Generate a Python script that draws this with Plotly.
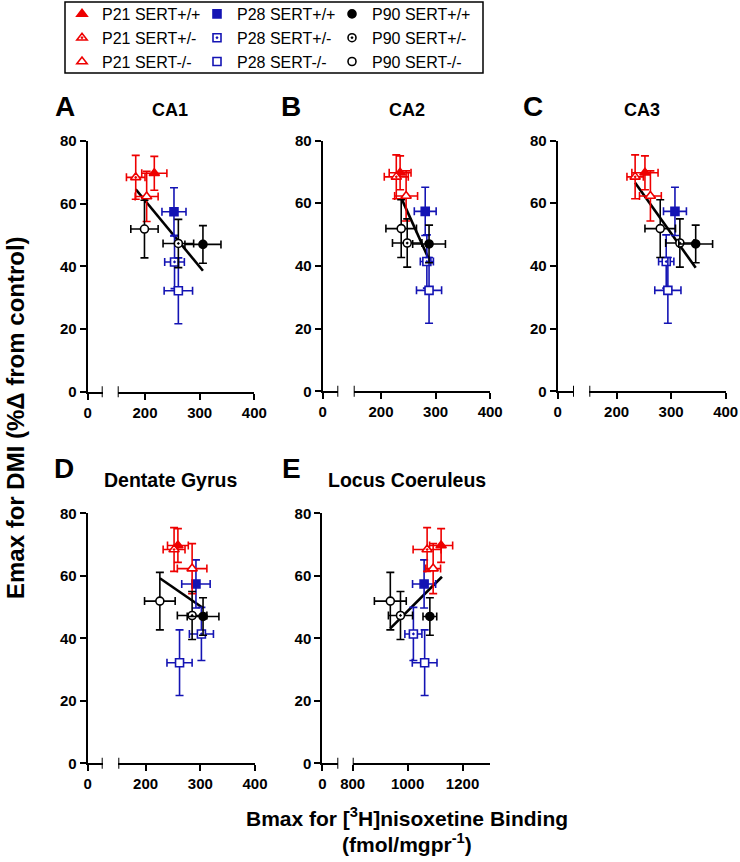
import plotly.graph_objects as go

# ---------------- data ----------------
groups = ["P21 SERT+/+", "P21 SERT+/-", "P21 SERT-/-",
          "P28 SERT+/+", "P28 SERT+/-", "P28 SERT-/-",
          "P90 SERT+/+", "P90 SERT+/-", "P90 SERT-/-"]

# Emax for DMI (% change from control), same for every region
emax = [69.7, 68.4, 62.3, 57.4, 41.4, 32.2, 47.0, 47.3, 51.9]
emax_err = [5.4, 7.0, 8.0, 7.7, 8.5, 10.5, 6.0, 7.7, 9.2]

# Bmax for [3H]nisoxetine binding per region
bmax_ca1 = [217, 183, 203, 253, 254, 261, 306, 261, 199]
bmax_ca1_err = [23, 17, 21, 22, 18, 26, 33, 28, 25]
bmax_ca2 = [235, 228, 246, 281, 284, 288, 288, 248, 237]
bmax_ca2_err = [20, 22, 21, 20, 12, 23, 30, 27, 28]
bmax_ca3 = [252, 234, 262, 307, 291, 294, 345, 316, 280]
bmax_ca3_err = [24, 15, 20, 21, 14, 24, 31, 26, 28]
bmax_dg = [259, 252, 285, 292, 302, 262, 305, 285, 226]
bmax_dg_err = [19, 20, 27, 26, 22, 23, 29, 27, 28]
bmax_lc = [1122, 1071, 1093, 1060, 1021, 1062, 1081, 974, 937]
bmax_lc_err = [42, 51, 27, 42, 31, 45, 25, 44, 58]

# regression line end points (x, y)
fit_ca1_x = [183, 306]; fit_ca1_y = [64.6, 38.6]
fit_ca2_x = [237, 288]; fit_ca2_y = [61.7, 42.0]
fit_ca3_x = [234, 345]; fit_ca3_y = [66.5, 39.4]
fit_dg_x = [226, 305];  fit_dg_y = [59.2, 49.7]
fit_lc_x = [937, 1125]; fit_lc_y = [43.2, 59.7]

y_ticks = [0, 20, 40, 60, 80]
x_ticks_hipp = [200, 300, 400]
x_ticks_lc = [800, 1000, 1200]

# ---------------- styling ----------------
W, H = 740, 862
RED, BLUE, BLACK = "#ee0000", "#1414b4", "#000000"
colors = [RED] * 3 + [BLUE] * 3 + [BLACK] * 3
shapes_sym = ["triangle-up", "triangle-up-dot", "triangle-up",
              "square", "square-dot", "square",
              "circle", "circle-dot", "circle"]
sizes = [9, 9, 9, 8, 8, 8, 8, 8, 8]
fills = ["c", "w", "w"] * 3
FONT = "Liberation Sans, Arial, sans-serif"

def X(px):
    return px / W

def Y(py):
    return 1 - py / H

# pixel geometry: left seg [x0,x1], right seg [x2,x3], y [bottom, top]
panels = [
    dict(letter="A", title="CA1", tsize=18, bx=bmax_ca1, be=bmax_ca1_err, fx=fit_ca1_x, fy=fit_ca1_y,
         seg=(87.7, 102.7, 117.7, 254.3), yp=(391.7, 141.0), rng=(150, 400), ticks=x_ticks_hipp,
         lpos=(65, 107), tpos=(170, 110)),
    dict(letter="B", title="CA2", tsize=18, bx=bmax_ca2, be=bmax_ca2_err, fx=fit_ca2_x, fy=fit_ca2_y,
         seg=(322.7, 338.3, 353.7, 490.2), yp=(391.3, 140.5), rng=(150, 400), ticks=x_ticks_hipp,
         lpos=(291, 107), tpos=(406.7, 110)),
    dict(letter="C", title="CA3", tsize=18, bx=bmax_ca3, be=bmax_ca3_err, fx=fit_ca3_x, fy=fit_ca3_y,
         seg=(557.7, 574.0, 589.3, 725.7), yp=(391.3, 140.5), rng=(150, 400), ticks=x_ticks_hipp,
         lpos=(533, 107), tpos=(641.7, 110)),
    dict(letter="D", title="Dentate Gyrus", tsize=19.5, bx=bmax_dg, be=bmax_dg_err, fx=fit_dg_x, fy=fit_dg_y,
         seg=(87.7, 102.7, 118.3, 255.0), yp=(763.3, 513.3), rng=(150, 400), ticks=x_ticks_hipp,
         lpos=(64, 468), tpos=(170.7, 480)),
    dict(letter="E", title="Locus Coeruleus", tsize=19.5, bx=bmax_lc, be=bmax_lc_err, fx=fit_lc_x, fy=fit_lc_y,
         seg=(322.3, 338.3, 352.7, 490.0), yp=(763.3, 513.3), rng=(800, 1300), ticks=x_ticks_lc,
         lpos=(291, 468), tpos=(406.7, 480)),
]

fig = go.Figure()
layout = {}
annotations = []
shapes = []
tickfont = dict(family=FONT, size=15, color="black", weight="bold")

def ax_name(n):
    return "" if n == 1 else str(n)

for i, p in enumerate(panels):
    xl = "x" + ax_name(2 * i + 1)
    xr = "x" + ax_name(2 * i + 2)
    yy = "y" + ax_name(i + 1)
    xl_key = "xaxis" + ax_name(2 * i + 1)
    xr_key = "xaxis" + ax_name(2 * i + 2)
    y_key = "yaxis" + ax_name(i + 1)
    x0, x1, x2, x3 = p["seg"]
    yb, yt = p["yp"]
    r0, r1 = p["rng"]
    scale = (x3 - x2) / (r1 - r0)
    lrange = (x1 - x0) / scale

    common = dict(showline=True, linecolor="black", linewidth=2, showgrid=False, zeroline=False,
                  ticks="outside", ticklen=6, tickwidth=2, tickcolor="black", tickfont=tickfont,
                  fixedrange=True, automargin=False)
    layout[xl_key] = dict(domain=[X(x0), X(x1)], range=[0, lrange], anchor=yy,
                          tickvals=[0], ticktext=["0"], **common)
    layout[xr_key] = dict(domain=[X(x2), X(x3)], range=[r0, r1], anchor=yy,
                          tickvals=p["ticks"], **common)
    layout[y_key] = dict(domain=[Y(yb), Y(yt)], range=[0, 80], anchor=xl,
                         tickvals=y_ticks, **common)

    # empty trace so the left segment axis is drawn
    fig.add_trace(go.Scatter(x=[], y=[], xaxis=xl, yaxis=yy, showlegend=False))

    # break caps
    for xv, xref in ((lrange, xl), (r0, xr)):
        shapes.append(dict(type="line", xref=xref, yref=f"{yy} domain", x0=xv, x1=xv,
                           y0=-0.022, y1=0.022, line=dict(color="black", width=2)))

    # regression line
    fig.add_trace(go.Scatter(x=p["fx"], y=p["fy"], mode="lines", xaxis=xr, yaxis=yy,
                             line=dict(color="black", width=2.6), showlegend=False,
                             hoverinfo="skip"))

    order = [3, 4, 5, 0, 1, 2, 8, 7, 6]
    for g in order:
        c = colors[g]
        fill = c if fills[g] == "c" else "white"
        leg = ["legend", "legend2", "legend3"][g // 3]
        fig.add_trace(go.Scatter(
            x=[p["bx"][g]], y=[emax[g]], mode="markers", name=groups[g],
            xaxis=xr, yaxis=yy, legend=leg, legendgroup=groups[g],
            legendrank=g, showlegend=(i == 0),
            marker=dict(symbol=shapes_sym[g], size=sizes[g],
                        color=fill, line=dict(color=c, width=1.6)),
            error_x=dict(type="data", array=[p["be"][g]], color=c, thickness=1.6, width=4),
            error_y=dict(type="data", array=[emax_err[g]], color=c, thickness=1.6, width=4),
            cliponaxis=False,
        ))

    annotations.append(dict(text=p["letter"], x=X(p["lpos"][0]), y=Y(p["lpos"][1]),
                            xref="paper", yref="paper", showarrow=False,
                            font=dict(family=FONT, size=28, color="black", weight="bold"),
                            xanchor="center", yanchor="middle"))
    annotations.append(dict(text=p["title"], x=X(p["tpos"][0]), y=Y(p["tpos"][1]),
                            xref="paper", yref="paper", showarrow=False,
                            font=dict(family=FONT, size=p["tsize"], color="black", weight="bold"),
                            xanchor="center", yanchor="middle"))

annotations.append(dict(text="Emax for DMI (%\u0394 from control)", x=X(16), y=Y(418),
                        xref="paper", yref="paper", showarrow=False, textangle=-90,
                        font=dict(family=FONT, size=24, color="black", weight="bold"),
                        xanchor="center", yanchor="middle"))
annotations.append(dict(text="Bmax for [<sup>3</sup>H]nisoxetine Binding", x=X(406.5), y=Y(817),
                        xref="paper", yref="paper", showarrow=False,
                        font=dict(family=FONT, size=21, color="black", weight="bold"),
                        xanchor="center", yanchor="middle"))
annotations.append(dict(text="(fmol/mgpr<sup>-1</sup>)", x=X(407), y=Y(843),
                        xref="paper", yref="paper", showarrow=False,
                        font=dict(family=FONT, size=21, color="black", weight="bold"),
                        xanchor="center", yanchor="middle"))

# legend box
shapes.append(dict(type="rect", xref="paper", yref="paper", x0=X(65), x1=X(483),
                   y0=Y(73), y1=Y(2), line=dict(color="black", width=1.5)))

legfont = dict(family=FONT, size=16, color="black")
for key, xp in (("legend", 62), ("legend2", 197), ("legend3", 332)):
    layout[key] = dict(x=X(xp), y=Y(-3), xanchor="left", yanchor="top", orientation="v",
                       bgcolor="rgba(0,0,0,0)", borderwidth=0, font=legfont,
                       tracegroupgap=0, itemclick=False, itemdoubleclick=False)

fig.update_layout(
    width=W, height=H, margin=dict(l=0, r=0, t=0, b=0, autoexpand=False),
    paper_bgcolor="white", plot_bgcolor="white",
    annotations=annotations, shapes=shapes, **layout,
)

# remove the default page margin so the 740x862 figure fills the window exactly
fig.write_html("out.html", config={"displayModeBar": False},
               post_script="document.body.style.margin='0px';")
